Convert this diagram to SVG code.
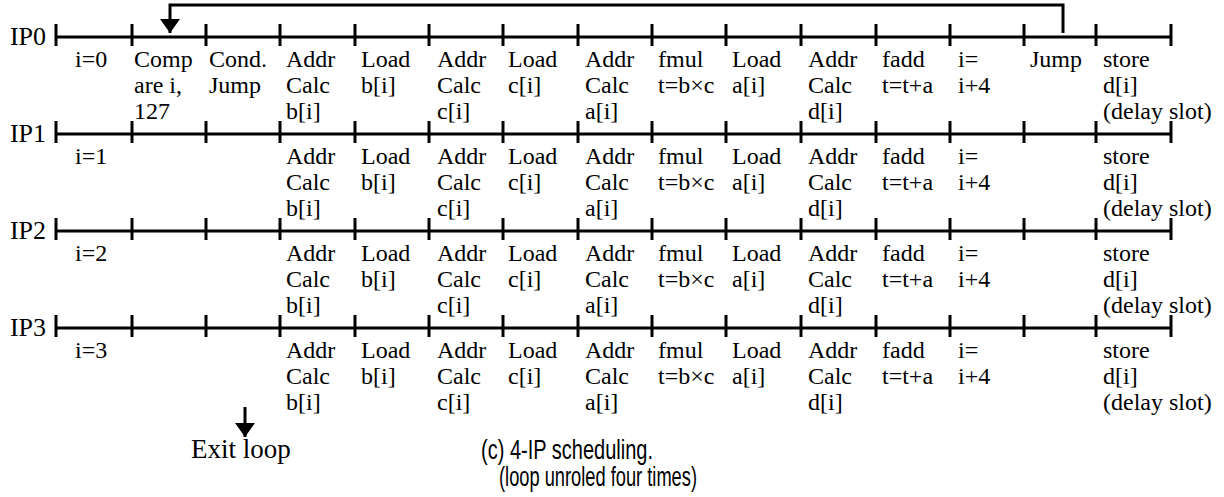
<svg xmlns="http://www.w3.org/2000/svg" width="1224" height="497" viewBox="0 0 1224 497">
  <style>
    text { font-family: "Liberation Serif", "Times New Roman", serif; font-size: 24px; fill: #000; }
    .bar { fill: none; stroke: #000; stroke-width: 3; }
    .wire { fill: none; stroke: #000; stroke-width: 3; }
    text.ip { font-size: 26px; text-anchor: end; }
    text.note { font-size: 27px; }
    text.cap { font-family: "Liberation Sans", Arial, sans-serif; font-size: 27px; }
  </style>
  <defs>
    <marker id="head" viewBox="0 0 14 20" refX="14" refY="10" markerWidth="14" markerHeight="20" markerUnits="userSpaceOnUse" orient="auto">
      <path d="M0,0 L14,10 L0,20 Z" fill="#000"/>
    </marker>
    <!-- one processor time line: baseline from 56 to 1171 with 16 slot ticks -->
    <path id="axis" class="bar" d="M56,0 H1171 M56,-13 V9 M132,-13 V9 M206,-13 V9 M280,-13 V9 M355,-13 V9 M429,-13 V9 M503,-13 V9 M578,-13 V9 M652,-13 V9 M726,-13 V9 M801,-13 V9 M876,-13 V9 M950,-13 V9 M1024,-13 V9 M1096,-13 V9 M1171,-13 V9"/>
    <!-- loop body shared by all four processors -->
    <g id="body">
      <text x="286" y="30">Addr<tspan x="286" dy="26">Calc</tspan><tspan x="286" dy="26">b[i]</tspan></text>
      <text x="361" y="30">Load<tspan x="361" dy="26">b[i]</tspan></text>
      <text x="437" y="30">Addr<tspan x="437" dy="26">Calc</tspan><tspan x="437" dy="26">c[i]</tspan></text>
      <text x="508" y="30">Load<tspan x="508" dy="26">c[i]</tspan></text>
      <text x="585" y="30">Addr<tspan x="585" dy="26">Calc</tspan><tspan x="585" dy="26">a[i]</tspan></text>
      <text x="658" y="30">fmul<tspan x="658" dy="26">t=b×c</tspan></text>
      <text x="732" y="30">Load<tspan x="732" dy="26">a[i]</tspan></text>
      <text x="808" y="30">Addr<tspan x="808" dy="26">Calc</tspan><tspan x="808" dy="26">d[i]</tspan></text>
      <text x="882" y="30">fadd<tspan x="882" dy="26">t=t+a</tspan></text>
      <text x="958" y="30">i=<tspan x="958" dy="26">i+4</tspan></text>
      <text x="1103" y="30">store<tspan x="1103" dy="26">d[i]</tspan><tspan x="1103" dy="26">(delay slot)</tspan></text>
    </g>
  </defs>

  <g id="ip0" transform="translate(0,37)">
    <text class="ip" x="46" y="8">IP0</text>
    <use href="#axis"/>
    <text x="75" y="30">i=0</text>
    <text x="134" y="30">Comp<tspan x="134" dy="26">are i,</tspan><tspan x="134" dy="26">127</tspan></text>
    <text x="209" y="30">Cond.<tspan x="209" dy="26">Jump</tspan></text>
    <use href="#body"/>
    <text x="1030" y="30">Jump</text>
  </g>

  <g id="ip1" transform="translate(0,134)">
    <text class="ip" x="46" y="8">IP1</text>
    <use href="#axis"/>
    <text x="75" y="30">i=1</text>
    <use href="#body"/>
  </g>

  <g id="ip2" transform="translate(0,231)">
    <text class="ip" x="46" y="8">IP2</text>
    <use href="#axis"/>
    <text x="75" y="30">i=2</text>
    <use href="#body"/>
  </g>

  <g id="ip3" transform="translate(0,328)">
    <text class="ip" x="46" y="8">IP3</text>
    <use href="#axis"/>
    <text x="75" y="30">i=3</text>
    <use href="#body"/>
  </g>

  <g id="exit">
    <text class="note" x="191" y="458">Exit loop</text>
  </g>

  <g id="caption">
    <text class="cap" x="481" y="459" textLength="172" lengthAdjust="spacingAndGlyphs">(c) 4-IP scheduling.</text>
    <text class="cap" x="499" y="486" textLength="198" lengthAdjust="spacingAndGlyphs">(loop unroled four times)</text>
  </g>

  <g id="connectors">
    <!-- branch back from Jump to the compare slot -->
    <path class="wire" d="M1063,33 V5 H170 V33" marker-end="url(#head)"/>
    <!-- loop exit -->
    <path class="wire" d="M245,407 V437" marker-end="url(#head)"/>
  </g>
</svg>
